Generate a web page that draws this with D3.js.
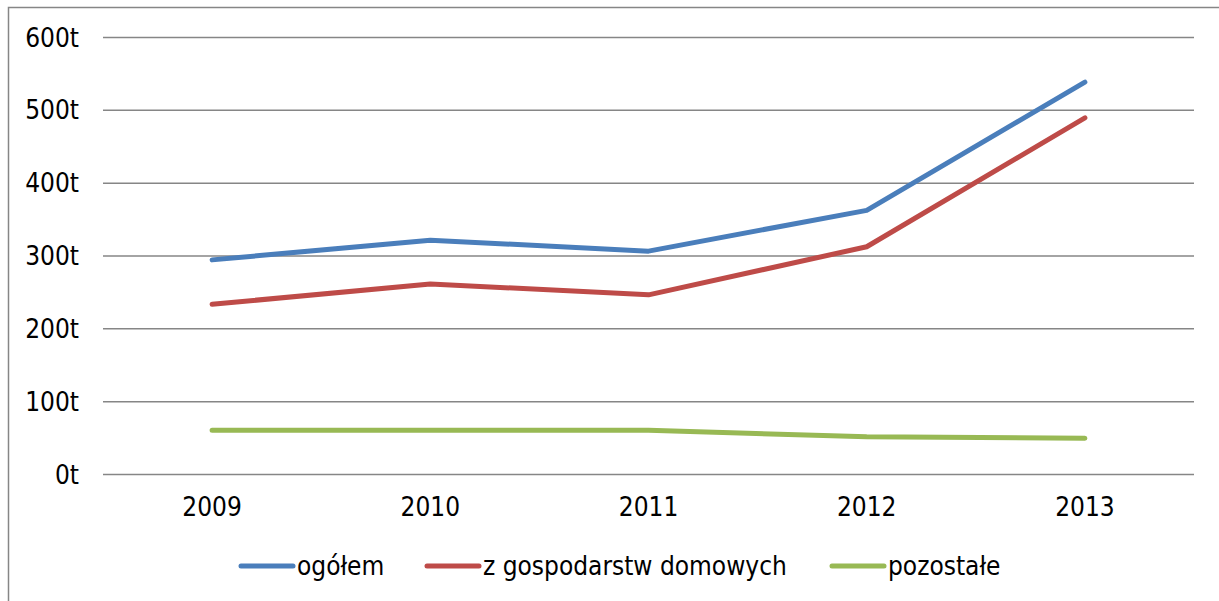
<!DOCTYPE html>
<html>
<head>
<meta charset="utf-8">
<script src="https://cdn.jsdelivr.net/npm/d3@7"></script>
<style>
  body { margin: 0; background: #fff; }
  svg text { font-family: "DejaVu Sans Condensed", "DejaVu Sans", sans-serif; font-stretch: condensed; fill: #000; }
</style>
</head>
<body>
<div id="chart"></div>
<script>
const years = ['2009', '2010', '2011', '2012', '2013'];
const ogolem = [294, 321, 306, 362, 538];
const domowe = [233, 261, 246, 312, 489];
const pozostale = [60, 60, 60, 51, 49];
const seriesNames = ['ogółem', 'z gospodarstw domowych', 'pozostałe'];
const seriesColors = ['#4a7ebb', '#be4b48', '#98b954'];
const yTicks = [0, 100, 200, 300, 400, 500, 600];

const svgWidth = 1219;
const svgHeight = 601;
const svg = d3.select('#chart').append('svg')
    .attr('width', svgWidth)
    .attr('height', svgHeight);

// outer frame
svg.append('rect')
    .attr('x', 8.5).attr('y', 7.5)
    .attr('width', 1225).attr('height', 620)
    .attr('fill', 'none')
    .attr('stroke', '#868686')
    .attr('stroke-width', 1.5);

const x = d3.scaleBand().domain(years).range([103, 1194]);
const y = d3.scaleLinear().domain([0, 600]).range([474, 37]);

// y axis + gridlines
const yAxis = svg.append('g')
    .attr('transform', 'translate(103,0)')
    .call(d3.axisLeft(y).tickValues(yTicks).tickSize(-(1194 - 103)).tickPadding(24)
        .tickFormat(d => d + 't'));
yAxis.select('.domain').remove();
yAxis.selectAll('.tick line').attr('stroke', '#868686').attr('stroke-width', 1.5);
yAxis.selectAll('.tick text').attr('font-size', 26).attr('dy', '0.35em');

// x axis labels
const xAxis = svg.append('g')
    .attr('transform', 'translate(0,474)')
    .call(d3.axisBottom(x).tickSize(0).tickPadding(24));
xAxis.select('.domain').remove();
xAxis.selectAll('.tick text').attr('font-size', 26);

// lines
const allSeries = [ogolem, domowe, pozostale];
const line = d3.line()
    .x((d, i) => x(years[i]) + x.bandwidth() / 2)
    .y(d => y(d));

allSeries.forEach((s, i) => {
    svg.append('path')
        .datum(s)
        .attr('d', line)
        .attr('fill', 'none')
        .attr('stroke', seriesColors[i])
        .attr('stroke-width', 5)
        .attr('stroke-linecap', 'round')
        .attr('stroke-linejoin', 'round');
});

// legend
const legendX = [241, 427, 832];
const legendY = 566;
seriesNames.forEach((name, i) => {
    const g = svg.append('g').attr('transform', `translate(${legendX[i]},${legendY})`);
    g.append('line')
        .attr('x1', 0).attr('x2', 52)
        .attr('y1', 0).attr('y2', 0)
        .attr('stroke', seriesColors[i])
        .attr('stroke-width', 5)
        .attr('stroke-linecap', 'round');
    g.append('text')
        .attr('x', 56)
        .attr('y', 0)
        .attr('dy', '0.35em')
        .attr('font-size', 26)
        .text(name);
});
</script>
</body>
</html>
